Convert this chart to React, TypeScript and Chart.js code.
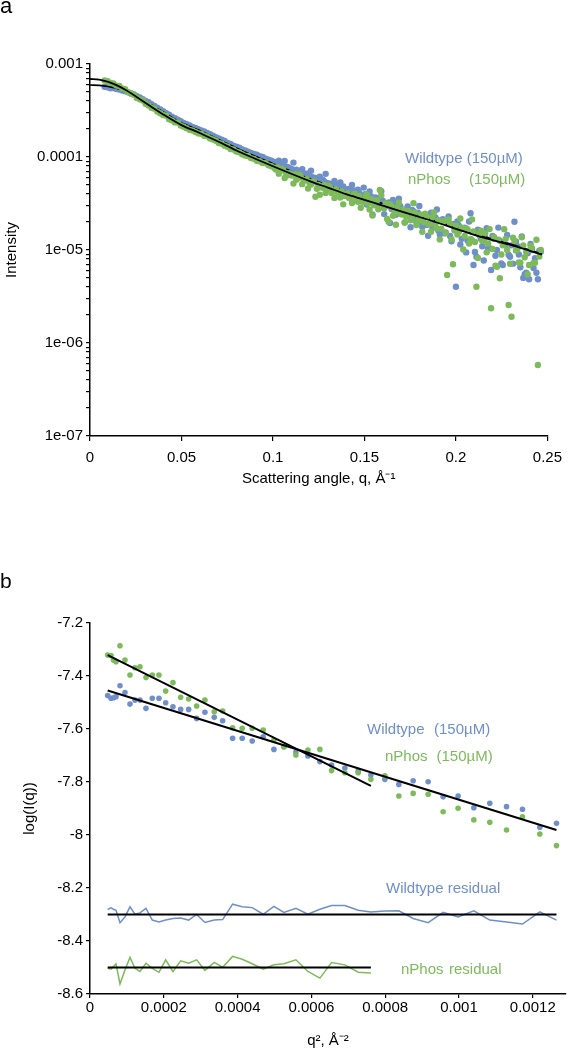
import React, { useEffect, useRef } from 'react';
import { Chart, registerables } from 'chart.js';

Chart.register(...registerables);

const BLUE = '#6f8fca';
const GREEN = '#7dbb5a';
const FONT = "'Liberation Sans', Arial, Helvetica, sans-serif";

// ---------------- Panel a : intensity vs q (log scale) ----------------
const qValues = [
  0.0080, 0.0096, 0.0112, 0.0128, 0.0144, 0.0160, 0.0176, 0.0192, 0.0208, 0.0224,
  0.0240, 0.0256, 0.0272, 0.0288, 0.0304, 0.0320, 0.0336, 0.0352, 0.0368, 0.0384,
  0.0400, 0.0416, 0.0432, 0.0448, 0.0464, 0.0480, 0.0496, 0.0512, 0.0528, 0.0544,
  0.0560, 0.0576, 0.0592, 0.0608, 0.0624, 0.0640, 0.0656, 0.0672, 0.0688, 0.0704,
  0.0720, 0.0736, 0.0752, 0.0768, 0.0784, 0.0800, 0.0816, 0.0832, 0.0848, 0.0864,
  0.0880, 0.0896, 0.0912, 0.0928, 0.0944, 0.0960, 0.0976, 0.0992, 0.1008, 0.1024,
  0.1040, 0.1056, 0.1072, 0.1088, 0.1104, 0.1120, 0.1136, 0.1152, 0.1168, 0.1184,
  0.1200, 0.1216, 0.1232, 0.1248, 0.1264, 0.1280, 0.1296, 0.1312, 0.1328, 0.1344,
  0.1360, 0.1376, 0.1392, 0.1408, 0.1424, 0.1440, 0.1456, 0.1472, 0.1488, 0.1504,
  0.1520, 0.1536, 0.1552, 0.1568, 0.1584, 0.1600, 0.1616, 0.1632, 0.1648, 0.1664,
  0.1680, 0.1696, 0.1712, 0.1728, 0.1744, 0.1760, 0.1776, 0.1792, 0.1808, 0.1824,
  0.1840, 0.1856, 0.1872, 0.1888, 0.1904, 0.1920, 0.1936, 0.1952, 0.1968, 0.1984,
  0.2000, 0.2016, 0.2032, 0.2048, 0.2064, 0.2080, 0.2096, 0.2112, 0.2128, 0.2144,
  0.2160, 0.2176, 0.2192, 0.2208, 0.2224, 0.2240, 0.2256, 0.2272, 0.2288, 0.2304,
  0.2320, 0.2336, 0.2352, 0.2368, 0.2384, 0.2400, 0.2416, 0.2432, 0.2448, 0.2464,
];

// log10 of intensity
const nPhosLog10I = [
  -3.178, -3.185, -3.205, -3.210, -3.232, -3.236, -3.262, -3.270, -3.302, -3.318,
  -3.330, -3.366, -3.380, -3.392, -3.428, -3.446, -3.470, -3.480, -3.512, -3.530,
  -3.548, -3.556, -3.594, -3.606, -3.628, -3.630, -3.662, -3.674, -3.690, -3.708,
  -3.714, -3.730, -3.746, -3.750, -3.772, -3.778, -3.800, -3.812, -3.826, -3.850,
  -3.858, -3.878, -3.890, -3.914, -3.920, -3.942, -3.950, -3.970, -3.985, -3.990,
  -4.012, -4.020, -4.040, -4.046, -4.064, -4.066, -4.090, -4.100, -4.118, -4.110,
  -4.150, -4.140, -4.172, -4.176, -4.200, -4.185, -4.226, -4.212, -4.250, -4.240,
  -4.280, -4.262, -4.427, -4.300, -4.322, -4.300, -4.345, -4.330, -4.370, -4.345,
  -4.392, -4.370, -4.420, -4.390, -4.440, -4.405, -4.455, -4.420, -4.480, -4.440,
  -4.500, -4.455, -4.520, -4.470, -4.355, -4.540, -4.500, -4.696, -4.530, -4.600,
  -4.545, -4.610, -4.570, -4.640, -4.585, -4.660, -4.600, -4.690, -4.620, -4.700,
  -4.640, -4.720, -4.650, -4.740, -4.680, -4.770, -4.690, -5.269, -4.720, -5.154,
  -4.740, -4.800, -4.760, -4.850, -4.780, -4.880, -4.800, -5.395, -4.830, -4.900,
  -4.820, -4.930, -5.627, -4.860, -5.180, -5.304, -4.950, -4.880, -5.591, -5.717,
  -4.900, -4.990, -5.137, -4.950, -5.020, -5.161, -4.980, -5.137, -6.237, -5.000,
];

const wildtypeLog10I = [
  -3.245, -3.250, -3.262, -3.258, -3.270, -3.275, -3.285, -3.292, -3.305, -3.318,
  -3.328, -3.345, -3.360, -3.378, -3.398, -3.412, -3.432, -3.452, -3.470, -3.488,
  -3.508, -3.530, -3.545, -3.566, -3.582, -3.600, -3.615, -3.634, -3.648, -3.662,
  -3.676, -3.688, -3.700, -3.715, -3.726, -3.742, -3.755, -3.772, -3.786, -3.800,
  -3.815, -3.828, -3.848, -3.860, -3.878, -3.890, -3.900, -3.918, -3.930, -3.942,
  -3.956, -3.968, -3.975, -3.992, -4.000, -4.018, -4.030, -4.040, -4.052, -4.070,
  -4.078, -4.092, -4.104, -4.115, -4.132, -4.142, -4.150, -4.168, -4.175, -4.195,
  -4.200, -4.218, -4.225, -4.245, -4.250, -4.262, -4.280, -4.288, -4.305, -4.302,
  -4.330, -4.320, -4.352, -4.345, -4.375, -4.360, -4.400, -4.385, -4.420, -4.400,
  -4.450, -4.425, -4.470, -4.445, -4.500, -4.470, -4.530, -4.490, -4.560, -4.500,
  -4.570, -4.530, -4.600, -4.560, -4.640, -4.570, -4.660, -4.600, -4.700, -4.620,
  -4.730, -4.640, -4.760, -4.650, -4.790, -4.680, -4.820, -4.700, -4.850, -4.720,
  -5.395, -4.740, -4.880, -4.760, -4.900, -4.605, -5.161, -5.072, -4.840, -4.960,
  -4.860, -4.980, -5.215, -4.880, -5.000, -4.900, -5.161, -4.940, -5.050, -4.950,
  -4.696, -4.960, -5.186, -5.300, -5.244, -5.315, -5.000, -5.089, -5.315, -5.020,
];

// the denser high-q part: points lying between the ones above
const qValuesHigh = [
  0.1016, 0.1032, 0.1048, 0.1064, 0.1080, 0.1096, 0.1112, 0.1128, 0.1144, 0.1160,
  0.1176, 0.1192, 0.1208, 0.1224, 0.1240, 0.1256, 0.1272, 0.1288, 0.1304, 0.1320,
  0.1336, 0.1352, 0.1368, 0.1384, 0.1400, 0.1416, 0.1432, 0.1448, 0.1464, 0.1480,
  0.1496, 0.1512, 0.1528, 0.1544, 0.1560, 0.1576, 0.1592, 0.1608, 0.1624, 0.1640,
  0.1656, 0.1672, 0.1688, 0.1704, 0.1720, 0.1736, 0.1752, 0.1768, 0.1784, 0.1800,
  0.1816, 0.1832, 0.1848, 0.1864, 0.1880, 0.1896, 0.1912, 0.1928, 0.1944, 0.1960,
  0.1976, 0.1992, 0.2008, 0.2024, 0.2040, 0.2056, 0.2072, 0.2088, 0.2104, 0.2120,
  0.2136, 0.2152, 0.2168, 0.2184, 0.2200, 0.2216, 0.2232, 0.2248, 0.2264, 0.2280,
  0.2296, 0.2312, 0.2328, 0.2344, 0.2360, 0.2376, 0.2392, 0.2408, 0.2424, 0.2440,
  0.2456,
];
const nPhosHighLog10I = [
  -4.134, -4.179, -4.127, -4.226, -4.196, -4.177, -4.286, -4.244, -4.191, -4.292,
  -4.252, -4.339, -4.297, -4.265, -4.341, -4.406, -4.331, -4.386, -4.310, -4.386,
  -4.440, -4.379, -4.435, -4.509, -4.400, -4.441, -4.494, -4.397, -4.481, -4.545,
  -4.480, -4.402, -4.564, -4.629, -4.467, -4.562, -4.410, -4.550, -4.667, -4.505,
  -4.633, -4.728, -4.491, -4.619, -4.704, -4.584, -4.681, -4.496, -4.732, -4.656,
  -4.805, -4.610, -4.718, -4.803, -4.597, -4.769, -4.886, -4.692, -4.821, -4.671,
  -4.885, -4.789, -4.833, -4.661, -4.994, -4.768, -4.930, -4.671, -4.914, -5.085,
  -4.792, -4.898, -5.025, -4.775, -4.990, -5.170, -4.888, -5.048, -4.776, -5.000,
  -5.148, -4.867, -5.006, -5.134, -4.864, -5.078, -5.260, -4.957, -5.139, -4.890,
  -5.071,
];
const wildtypeHighLog10I = [
  -4.069, -4.039, -4.127, -4.043, -4.110, -4.155, -4.060, -4.136, -4.213, -4.130,
  -4.209, -4.178, -4.147, -4.233, -4.276, -4.212, -4.244, -4.181, -4.310, -4.289,
  -4.257, -4.336, -4.273, -4.316, -4.400, -4.344, -4.301, -4.386, -4.352, -4.426,
  -4.329, -4.510, -4.370, -4.618, -4.434, -4.530, -4.367, -4.614, -4.506, -4.709,
  -4.461, -4.621, -4.448, -4.598, -4.704, -4.531, -4.756, -4.582, -4.700, -4.527,
  -4.751, -4.642, -4.847, -4.599, -4.726, -4.564, -4.832, -4.670, -4.810, -4.638,
  -4.907, -4.756, -4.693, -4.941, -4.768, -5.026, -4.693, -4.897, -5.022, -4.783,
  -4.879, -5.113, -4.766, -4.980, -4.850, -5.062, -4.759, -5.145, -4.938, -4.838,
  -5.073, -5.147, -4.909, -5.048, -4.853, -5.261, -5.034, -4.936, -5.193, -5.245,
  -5.007,
];

const fitQ = [
  0, 0.005, 0.01, 0.015, 0.02, 0.03, 0.04, 0.05, 0.06, 0.07, 0.08, 0.09, 0.10, 0.11,
  0.12, 0.13, 0.14, 0.15, 0.16, 0.17, 0.18, 0.19, 0.20, 0.21, 0.22, 0.23, 0.24, 0.247,
];
const nPhosFitLog10I = [
  -3.161, -3.168, -3.193, -3.232, -3.285, -3.414, -3.542, -3.657, -3.742, -3.834, -3.930, -4.016, -4.099, -4.180,
  -4.259, -4.329, -4.400, -4.460, -4.523, -4.585, -4.645, -4.707, -4.773, -4.838, -4.893, -4.946, -5.006, -5.050,
];
const wildtypeFitLog10I = [
  -3.226, -3.230, -3.242, -3.262, -3.300, -3.400, -3.515, -3.632, -3.715, -3.808, -3.903, -3.990, -4.072, -4.153,
  -4.232, -4.303, -4.375, -4.437, -4.500, -4.565, -4.628, -4.692, -4.760, -4.826, -4.883, -4.938, -4.998, -5.042,
];

const yExponentsA = [-7, -6, -5, -4, -3];
const yTickLabelsA = ['1e-07', '1e-06', '1e-05', '0.0001', '0.001'];
const minorMultipliersA = [1, 2, 3, 4, 5, 6, 7, 8, 9];

// ---------------- Panel b : Guinier plot ----------------
const q2Values = [
  4.79e-5, 5.69e-5, 6.37e-5, 7.04e-5, 8.13e-5, 9.48e-5, 1.084e-4, 1.219e-4, 1.354e-4, 1.517e-4,
  1.688e-4, 1.869e-4, 2.051e-4, 2.248e-4, 2.457e-4, 2.674e-4, 2.890e-4, 3.115e-4, 3.367e-4, 3.595e-4,
  3.865e-4, 4.125e-4, 4.396e-4, 4.694e-4, 4.984e-4, 5.255e-4, 5.580e-4, 5.905e-4, 6.230e-4, 6.547e-4,
  6.907e-4, 7.268e-4, 7.612e-4, 7.991e-4, 8.370e-4, 8.758e-4, 9.164e-4, 9.570e-4, 9.976e-4, 1.0402e-3,
  1.0835e-3, 1.1288e-3, 1.1721e-3, 1.2190e-3, 1.2642e-3,
];
const wildtypeLnI = [
  -7.474, -7.484, -7.482, -7.478, -7.437, -7.462, -7.506, -7.491, -7.491, -7.522,
  -7.484, -7.484, -7.501, -7.516, -7.526, -7.526, -7.560, -7.537, -7.556, -7.569,
  -7.635, -7.635, -7.645, -7.629, -7.677, -7.667, -7.687, -7.702, -7.723, -7.736,
  -7.747, -7.759, -7.774, -7.790, -7.809, -7.795, -7.799, -7.856, -7.853, -7.897,
  -7.880, -7.893, -7.903, -7.971, -7.956,
];
const nPhosLnI = [
  -7.321, -7.323, -7.340, -7.346, -7.286, -7.340, -7.396, -7.369, -7.365, -7.406,
  -7.396, -7.396, -7.457, -7.425, -7.480, -7.487, -7.513, -7.491, -7.535, -7.532,
  -7.595, -7.597, -7.597, -7.604, -7.642, -7.667, -7.698, -7.679, -7.677, -7.757,
  -7.765, -7.765, -7.790, -7.777, -7.853, -7.843, -7.846, -7.912, -7.899, -7.943,
  -7.952, -7.981, -7.931, -7.996, -8.040,
];
// residuals as drawn (offset to -8.3 and -8.5)
const wildtypeResidual = [
  -8.281, -8.275, -8.280, -8.284, -8.331, -8.309, -8.271, -8.299, -8.294, -8.277,
  -8.321, -8.328, -8.321, -8.315, -8.313, -8.321, -8.300, -8.330, -8.321, -8.319,
  -8.261, -8.271, -8.274, -8.299, -8.269, -8.292, -8.277, -8.299, -8.280, -8.266,
  -8.266, -8.284, -8.291, -8.287, -8.286, -8.315, -8.331, -8.292, -8.309, -8.286,
  -8.321, -8.328, -8.336, -8.290, -8.321,
];
const nPhosResidual = [
  -8.503, -8.506, -8.496, -8.486, -8.562, -8.509, -8.462, -8.503, -8.515, -8.484,
  -8.503, -8.518, -8.471, -8.516, -8.475, -8.484, -8.471, -8.511, -8.481, -8.499,
  -8.458, -8.469, -8.486, -8.506, -8.490, -8.486, -8.471, -8.515, -8.540, -8.481,
  -8.490, -8.518, -8.521,
];
const wildtypeFitQ2 = [4.79e-5, 1.2642e-3];
const wildtypeFitLnI = [-7.455, -7.981];
const nPhosFitQ2 = [4.79e-5, 7.612e-4];
const nPhosFitLnI = [-7.321, -7.815];
const wildtypeBaseQ2 = [4.79e-5, 1.2642e-3];
const wildtypeBase = [-8.3, -8.3];
const nPhosBaseQ2 = [4.79e-5, 7.612e-4];
const nPhosBase = [-8.5, -8.5];

// ---------------- annotations (text drawn on canvas) ----------------
const annotationsA = [
  { text: 'a', x: 0, y: 13, color: '#000', size: 22 },
  { text: 'Wildtype (150µM)', x: 405, y: 162.5, color: BLUE, size: 15 },
  { text: 'nPhos', x: 408, y: 183.5, color: GREEN, size: 15 },
  { text: '(150µM)', x: 469, y: 183.5, color: GREEN, size: 15 },
];
const annotationsB = [
  { text: 'b', x: 0, y: 93, color: '#000', size: 21 },
  { text: 'Wildtype', x: 367, y: 238.5, color: BLUE, size: 15 },
  { text: '(150µM)', x: 434, y: 238.5, color: BLUE, size: 15 },
  { text: 'nPhos', x: 385, y: 266, color: GREEN, size: 15 },
  { text: '(150µM)', x: 436.5, y: 266, color: GREEN, size: 15 },
  { text: 'Wildtype residual', x: 386, y: 397.5, color: BLUE, size: 15 },
  { text: 'nPhos', x: 401, y: 478.5, color: GREEN, size: 15 },
  { text: 'residual', x: 449, y: 478.5, color: GREEN, size: 15 },
];

function textPlugin(items: any[]) {
  return {
    id: 'annotText',
    afterDraw(chart: any) {
      const ctx = chart.ctx;
      ctx.save();
      ctx.textBaseline = 'alphabetic';
      ctx.textAlign = 'left';
      items.forEach((it) => {
        ctx.font = `${it.size}px ${FONT}`;
        ctx.fillStyle = it.color;
        ctx.fillText(it.text, it.x, it.y);
      });
      ctx.restore();
    },
  };
}

const pts = (xs: number[], ys: number[]) => xs.map((x, i) => ({ x, y: ys[i] }));
const ptsPow = (xs: number[], ls: number[]) => xs.map((x, i) => ({ x, y: Math.pow(10, ls[i]) }));

function dots(label: string, data: any[], color: string, r: number, order: number) {
  return {
    label, data, order,
    backgroundColor: color, pointBackgroundColor: color,
    borderWidth: 0, pointBorderWidth: 0, pointRadius: r, pointHoverRadius: r,
    showLine: false,
  };
}
function line(label: string, data: any[], color: string, w: number, order: number, smooth = false) {
  return {
    label, data, order,
    showLine: true, borderColor: color, borderWidth: w, pointRadius: 0, pointHoverRadius: 0,
    backgroundColor: color, fill: false, tension: 0,
    cubicInterpolationMode: smooth ? 'monotone' : 'default',
  };
}

const gridStyle = (tl: number) => ({
  display: true, drawOnChartArea: false, drawTicks: true, tickLength: tl,
  color: '#000', lineWidth: 1.2,
});
const borderStyle = { display: true, color: '#000', width: 1.5 };

export default function App() {
  const refA = useRef<HTMLCanvasElement>(null);
  const refB = useRef<HTMLCanvasElement>(null);

  useEffect(() => {
    Chart.defaults.font.family = FONT;
    Chart.defaults.font.size = 15;
    Chart.defaults.color = '#000';

    const chartA = new Chart(refA.current as HTMLCanvasElement, {
      type: 'scatter',
      data: {
        datasets: [
          line('nPhos fit', ptsPow(fitQ, nPhosFitLog10I), '#000', 1.8, 1, true),
          dots('nPhos (150µM)',
            ptsPow(qValues, nPhosLog10I).concat(ptsPow(qValuesHigh, nPhosHighLog10I)), GREEN, 3.2, 2),
          line('Wildtype fit', ptsPow(fitQ, wildtypeFitLog10I), '#000', 1.6, 3, true),
          dots('Wildtype (150µM)',
            ptsPow(qValues, wildtypeLog10I).concat(ptsPow(qValuesHigh, wildtypeHighLog10I)), BLUE, 3.2, 4),
        ] as any,
      },
      options: {
        animation: false,
        responsive: false,
        events: [],
        layout: { padding: { top: 64, right: 17, bottom: 0, left: 0 } },
        plugins: { legend: { display: false }, tooltip: { enabled: false } },
        scales: {
          x: {
            type: 'linear', min: 0, max: 0.25,
            ticks: {
              stepSize: 0.05, padding: 8, maxRotation: 0, autoSkip: false,
              font: { size: 15 }, color: '#000',
              callback: (v: any) => String(Number(Number(v).toFixed(2))),
            },
            grid: gridStyle(5) as any,
            border: borderStyle,
            title: {
              display: true, text: 'Scattering angle, q, Å⁻¹', color: '#000',
              font: { size: 15 }, padding: { top: 0, bottom: 7 },
            },
            afterFit: (s: any) => { s.height = 59; },
          },
          y: {
            type: 'logarithmic', min: 1e-7, max: 1e-3,
            afterBuildTicks: (s: any) => {
              const t: any[] = [];
              yExponentsA.forEach((e) => {
                if (e === -3) { t.push({ value: Math.pow(10, e) }); return; }
                minorMultipliersA.forEach((m) => t.push({ value: m * Math.pow(10, e) }));
              });
              s.ticks = t;
            },
            ticks: {
              autoSkip: false, padding: 3, font: { size: 15 }, color: '#000',
              callback: (v: any) => {
                const val = Number(v);
                const e = Math.round(Math.log10(val));
                if (Math.abs(val - Math.pow(10, e)) / val < 1e-6) {
                  const idx = yExponentsA.indexOf(e);
                  return idx >= 0 ? yTickLabelsA[idx] : '';
                }
                return '';
              },
            },
            grid: gridStyle(4) as any,
            border: borderStyle,
            title: {
              display: true, text: 'Intensity', color: '#000',
              font: { size: 15 }, padding: { top: 3, bottom: 0 },
            },
            afterFit: (s: any) => { s.width = 90; },
          },
        },
      } as any,
      plugins: [textPlugin(annotationsA)],
    });

    const chartB = new Chart(refB.current as HTMLCanvasElement, {
      type: 'scatter',
      data: {
        datasets: [
          line('Wildtype baseline', pts(wildtypeBaseQ2, wildtypeBase), '#000', 2, 1),
          line('nPhos baseline', pts(nPhosBaseQ2, nPhosBase), '#000', 2, 1),
          line('Wildtype fit', pts(wildtypeFitQ2, wildtypeFitLnI), '#000', 2, 2),
          line('nPhos fit', pts(nPhosFitQ2, nPhosFitLnI), '#000', 2, 2),
          line('Wildtype residual', pts(q2Values, wildtypeResidual), BLUE, 1.5, 3),
          line('nPhos residual', pts(q2Values.slice(0, nPhosResidual.length), nPhosResidual), GREEN, 1.5, 3),
          dots('nPhos (150µM)', pts(q2Values, nPhosLnI), GREEN, 2.8, 4),
          dots('Wildtype (150µM)', pts(q2Values, wildtypeLnI), BLUE, 2.8, 5),
        ] as any,
      },
      options: {
        animation: false,
        responsive: false,
        events: [],
        layout: { padding: { top: 128, right: 4, bottom: 0, left: 0 } },
        plugins: { legend: { display: false }, tooltip: { enabled: false } },
        scales: {
          x: {
            type: 'linear', min: 0, max: 0.00129,
            ticks: {
              stepSize: 0.0002, includeBounds: false, padding: 1, maxRotation: 0, autoSkip: false,
              font: { size: 15 }, color: '#000',
              callback: (v: any) => String(Number(Number(v).toFixed(4))),
            },
            grid: gridStyle(4) as any,
            border: borderStyle,
            title: {
              display: true, text: 'q², Å⁻²', color: '#000',
              font: { size: 15 }, padding: { top: 0, bottom: 0 },
            },
            afterFit: (s: any) => { s.height = 56; },
          },
          y: {
            type: 'linear', min: -8.6, max: -7.2,
            ticks: {
              stepSize: 0.2, padding: 3, autoSkip: false, font: { size: 15 }, color: '#000',
              callback: (v: any) => String(Number(Number(v).toFixed(1))),
            },
            grid: gridStyle(4) as any,
            border: borderStyle,
            title: {
              display: true, text: 'log(I(q))', color: '#000',
              font: { size: 15 }, padding: { top: 20.5, bottom: 0 },
            },
            afterFit: (s: any) => { s.width = 90; },
          },
        },
      } as any,
      plugins: [textPlugin(annotationsB)],
    });

    return () => {
      chartA.destroy();
      chartB.destroy();
    };
  }, []);

  return (
    <div style={{ position: 'absolute', left: 0, top: 0, width: 570, height: 1050, background: '#fff' }}>
      <canvas ref={refA} width={570} height={495} style={{ display: 'block', width: 570, height: 495 }} />
      <canvas ref={refB} width={570} height={555} style={{ display: 'block', width: 570, height: 555 }} />
    </div>
  );
}
